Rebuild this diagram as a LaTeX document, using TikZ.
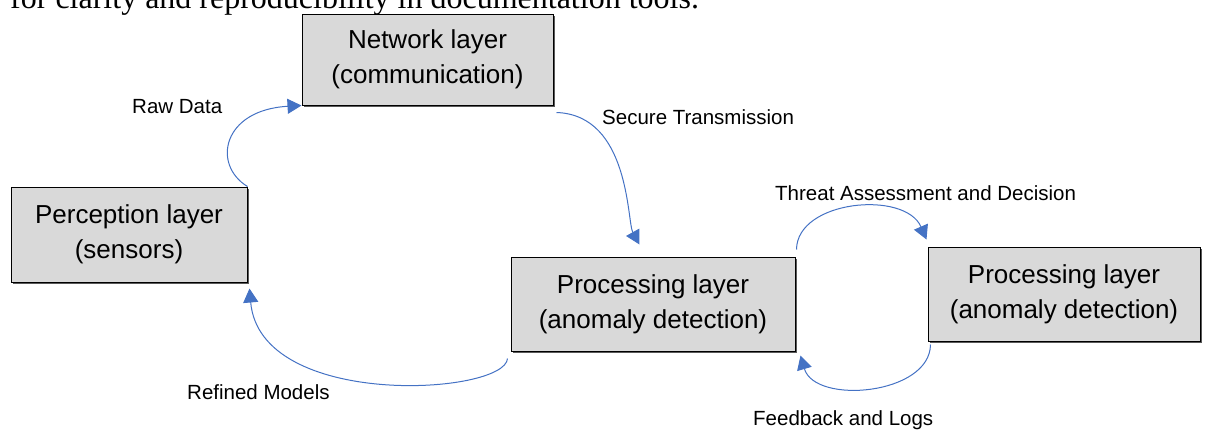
\documentclass[tikz,border=0pt]{standalone}
\usepackage{fontspec}
\setmainfont{Liberation Serif}
\newfontfamily\arialfont{Liberation Sans}
\usetikzlibrary{arrows.meta,shadows}
\definecolor{flowblue}{RGB}{68,114,196}
\definecolor{boxgray}{RGB}{217,217,217}
\begin{document}
\begin{tikzpicture}[x=1pt,y=-1pt,
  layerbox/.style={draw=black, line width=1pt, fill=boxgray, inner sep=0pt,
    align=center, font=\arialfont\fontsize{26}{35}\selectfont,
    general shadow={fill=black!65, shadow xshift=1.5pt, shadow yshift=-1.5pt}},
  flow/.style={draw=flowblue, line width=1pt,
    -{Triangle[length=14pt,width=15pt]}},
  flowlabel/.style={font=\arialfont\fontsize{20.5}{24}\selectfont,
    anchor=base west, inner sep=0pt}]
\useasboundingbox (0,0) rectangle (1210,432);
\clip (0,0) rectangle (1210,432);

% running text line above the figure
\node[anchor=base west, inner sep=0pt, font=\fontsize{32}{38}\selectfont]
  (caption) at (10,8) {for clarity and reproducibility in documentation tools.};

% layers
\node[layerbox, minimum width=236pt, minimum height=95pt] (perc) at (129,234.5)
  {Perception layer\\(sensors)};
\node[layerbox, minimum width=251pt, minimum height=91pt] (net) at (427.5,59.5)
  {Network layer\\(communication)};
\node[layerbox, minimum width=284pt, minimum height=94pt] (proc) at (653,304)
  {Processing layer\\(anomaly detection)};
\node[layerbox, minimum width=272pt, minimum height=94pt] (resp) at (1064,294)
  {Processing layer\\(anomaly detection)};

% data flows
\draw[flow] (perc.north east) .. controls (212,165) and (222,110) .. (net.south west);
\draw[flow] ([shift={(3,7)}]net.south east) .. controls (630,115) and (627,222)
  .. ([shift={(129,-12)}]proc.north west);
\draw[flow] ([shift={(1,-7)}]proc.north east) .. controls (797,200) and (905,190)
  .. ([shift={(-1,-7)}]resp.north west);
\draw[flow] ([shift={(3,3)}]resp.south west) .. controls (930,395) and (815,405)
  .. ([shift={(5,4)}]proc.south east);
\draw[flow] ([shift={(-3,7)}]proc.south west) .. controls (505,395) and (260,410)
  .. ([shift={(2,6)}]perc.south east);

% flow labels
\node[flowlabel] (lraw) at (132,113) {Raw Data};
\node[flowlabel] (lsec) at (602,124.5) {Secure Transmission};
\node[flowlabel] (lthr) at (775,200) {Threat Assessment and Decision};
\node[flowlabel] (lfb) at (753,425) {Feedback and Logs};
\node[flowlabel] (lref) at (187,399) {Refined Models};
\end{tikzpicture}
\end{document}
